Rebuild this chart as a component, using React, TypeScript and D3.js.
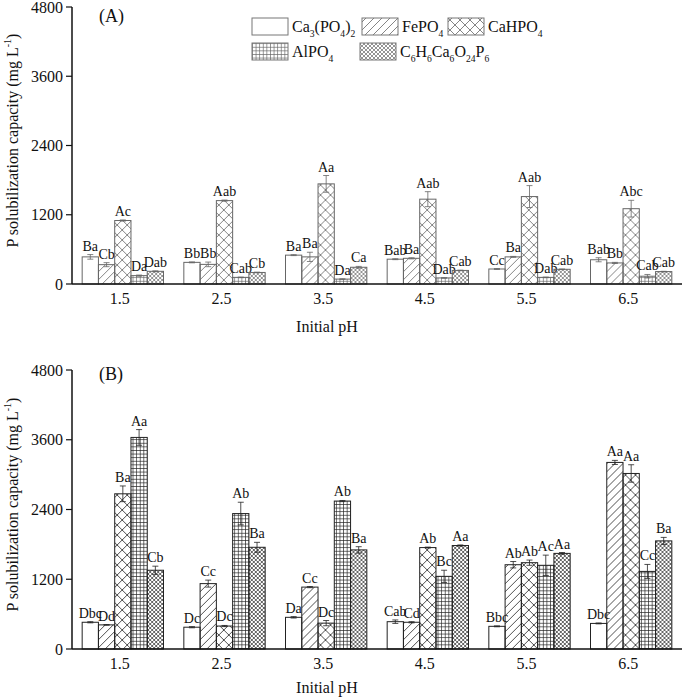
import React from 'react';
import * as d3 from 'd3';

const width = 682;
const height = 698;
const font = '"Liberation Serif", "Times New Roman", serif';

const groups = ['1.5', '2.5', '3.5', '4.5', '5.5', '6.5'];
const series = ['Ca3(PO4)2', 'FePO4', 'CaHPO4', 'AlPO4', 'C6H6Ca6O24P6'];
const yTicks = [0, 1200, 2400, 3600, 4800];

// panel A, one row per pH, one value per phosphate source
const valuesA = [
	[470, 335, 1100, 145, 220],
	[375, 340, 1445, 115, 200],
	[500, 470, 1735, 85, 290],
	[430, 445, 1470, 105, 235],
	[260, 470, 1515, 115, 255],
	[420, 365, 1305, 135, 215],
];
const errorsA = [
	[40, 35, 10, 10, 8],
	[8, 40, 10, 5, 5],
	[8, 80, 145, 5, 15],
	[8, 10, 130, 5, 5],
	[8, 8, 190, 5, 5],
	[35, 10, 145, 30, 5],
];
const lettersA = [
	['Ba', 'Cb', 'Ac', 'Da', 'Dab'],
	['Bb', 'Bb', 'Aab', 'Cab', 'Cb'],
	['Ba', 'Ba', 'Aa', 'Da', 'Ca'],
	['Bab', 'Ba', 'Aab', 'Dab', 'Cab'],
	['Cc', 'Ba', 'Aab', 'Dab', 'Cab'],
	['Bab', 'Bb', 'Abc', 'Cab', 'Cab'],
];

// panel B
const valuesB = [
	[460, 415, 2670, 3640, 1355],
	[375, 1125, 395, 2330, 1750],
	[545, 1065, 445, 2545, 1705],
	[470, 460, 1745, 1250, 1780],
	[390, 1450, 1485, 1440, 1645],
	[440, 3210, 3020, 1335, 1860],
];
const errorsB = [
	[10, 5, 135, 135, 70],
	[10, 60, 10, 195, 85],
	[12, 10, 45, 10, 55],
	[30, 10, 8, 105, 10],
	[8, 55, 45, 175, 15],
	[8, 35, 150, 120, 60],
];
const lettersB = [
	['Dbc', 'Dd', 'Ba', 'Aa', 'Cb'],
	['Dc', 'Cc', 'Dc', 'Ab', 'Ba'],
	['Da', 'Cc', 'Dc', 'Ab', 'Ba'],
	['Cab', 'Cd', 'Ab', 'Bc', 'Aa'],
	['Bbc', 'Ab', 'Ab', 'Ac', 'Aa'],
	['Dbc', 'Aa', 'Aa', 'Cc', 'Ba'],
];

const x = d3.scaleBand().domain(groups).range([72, 682]).paddingInner(0.2).paddingOuter(0.1);
const xi = d3.scaleBand().domain(series).range([0, x.bandwidth()]);

// formula text: digits become subscripts
const Formula = ({ s, size }) => {
	const parts = s.match(/\d+|\D+/g) || [];
	const sh = Math.round(size * 0.3);
	return (
		<>
			{parts.map((p, i) =>
				/\d/.test(p) ? (
					<tspan key={i} fontSize={size * 0.6} dy={sh}>{p}</tspan>
				) : (
					<tspan key={i} dy={i > 0 ? -sh : 0}>{p}</tspan>
				)
			)}
		</>
	);
};

const Patterns = ({ id, color }) => (
	<>
		<pattern id={`p1${id}`} width={8} height={8} patternUnits="userSpaceOnUse">
			<path d="M0,8 L8,0 M-2,2 L2,-2 M6,10 L10,6" stroke={color} strokeWidth={0.8} />
		</pattern>
		<pattern id={`p2${id}`} width={10} height={10} patternUnits="userSpaceOnUse">
			<path d="M0,0 L10,10 M10,0 L0,10" stroke={color} strokeWidth={0.8} />
		</pattern>
		<pattern id={`p3${id}`} width={3.6} height={3.6} patternUnits="userSpaceOnUse">
			<path d="M0,0.3 H3.6 M0.3,0 V3.6" stroke={color} strokeWidth={0.8} />
		</pattern>
		<pattern id={`p4${id}`} width={4} height={4} patternUnits="userSpaceOnUse">
			<path d="M0,0 L4,4 M4,0 L0,4" stroke={color} strokeWidth={0.7} />
		</pattern>
	</>
);

const fillFor = (i, id) => (i === 0 ? '#fff' : `url(#p${i}${id})`);

const Panel = ({ id, y0, yTop, values, errors, letters, stroke, labelY, titleY, tag }) => {
	const y = d3.scaleLinear().domain([0, 4800]).range([y0, yTop]);
	const x0 = 72;
	return (
		<g>
			<defs>
				<Patterns id={id} color={stroke} />
			</defs>
			{groups.map((g, gi) => (
				<g key={g} transform={`translate(${x(g)},0)`}>
					{series.map((s, si) => {
						const v = values[gi][si];
						const e = errors[gi][si];
						const bx = xi(s);
						const bw = xi.bandwidth();
						const cx = bx + bw / 2;
						return (
							<g key={s}>
								<rect x={bx} y={y(v)} width={bw} height={y0 - y(v)} fill={fillFor(si, id)} stroke={stroke} strokeWidth={1} />
								<line x1={cx} x2={cx} y1={y(v + e)} y2={y(v - e)} stroke={stroke} strokeWidth={0.8} />
								<line x1={cx - 3} x2={cx + 3} y1={y(v + e)} y2={y(v + e)} stroke={stroke} strokeWidth={0.8} />
								<line x1={cx - 3} x2={cx + 3} y1={y(v - e)} y2={y(v - e)} stroke={stroke} strokeWidth={0.8} />
								<text x={cx} y={y(v + e) - 4} textAnchor="middle" fontSize={14} fill="#111">
									{letters[gi][si]}
								</text>
							</g>
						);
					})}
				</g>
			))}
			{/* axes */}
			<line x1={x0} x2={682} y1={y0} y2={y0} stroke="#111" strokeWidth={1.5} />
			<line x1={x0} x2={x0} y1={y0} y2={yTop} stroke="#111" strokeWidth={1.5} />
			{yTicks.map((t) => (
				<g key={t}>
					<line x1={x0 - 6} x2={x0} y1={y(t)} y2={y(t)} stroke="#111" strokeWidth={1.2} />
					<text x={x0 - 9} y={y(t)} dy="0.35em" textAnchor="end" fontSize={16} fill="#111">{t}</text>
				</g>
			))}
			{groups.map((g) => (
				<text key={g} x={x(g) + x.bandwidth() / 2 - 3} y={y0 + 20} textAnchor="middle" fontSize={16} fill="#111">{g}</text>
			))}
			<text x={327} y={labelY} textAnchor="middle" fontSize={16} fill="#111">Initial pH</text>
			<text transform={`translate(18,${(y0 + yTop) / 2 - 5}) rotate(-90)`} textAnchor="middle" fontSize={16} fill="#111">
				P solubilization capacity (mg L<tspan fontSize={10} dy={-7}>-1</tspan><tspan dy={7}>)</tspan>
			</text>
			<text x={99} y={titleY} fontSize={18} fill="#111">{tag}</text>
		</g>
	);
};

const Legend = () => {
	const cells = [
		{ x: 252, y: 18 },
		{ x: 362, y: 18 },
		{ x: 448, y: 18 },
		{ x: 252, y: 43 },
		{ x: 360, y: 43 },
	];
	return (
		<g>
			{series.map((s, i) => (
				<g key={s}>
					<rect x={cells[i].x} y={cells[i].y} width={36} height={17} fill={fillFor(i, 'A')} stroke="#777" strokeWidth={1} />
					<text x={cells[i].x + 40} y={cells[i].y + 14} fontSize={16} fill="#111">
						<Formula s={s} size={16} />
					</text>
				</g>
			))}
		</g>
	);
};

const App = () => (
	<svg width={width} height={height} style={{ position: 'absolute', left: 0, top: 0, background: '#fff' }} fontFamily={font}>
		<Panel id="A" y0={284} yTop={7} values={valuesA} errors={errorsA} letters={lettersA} stroke="#666" labelY={332} titleY={22} tag="(A)" />
		<Panel id="B" y0={649} yTop={370} values={valuesB} errors={errorsB} letters={lettersB} stroke="#222" labelY={693} titleY={380} tag="(B)" />
		<Legend />
	</svg>
);

export default App;
